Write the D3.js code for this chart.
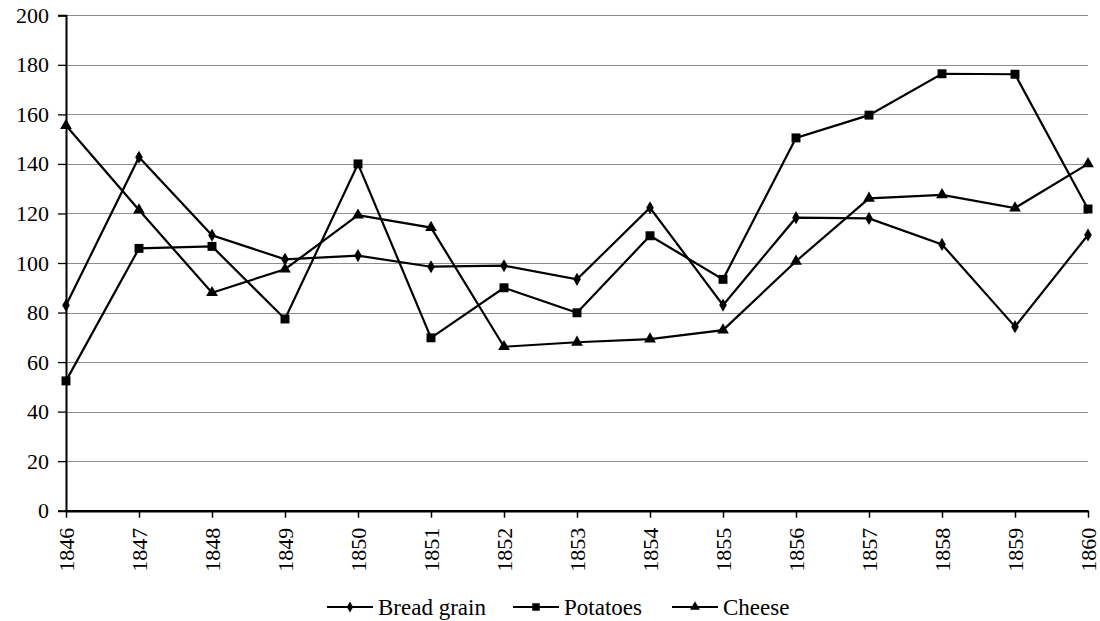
<!DOCTYPE html>
<html><head><meta charset="utf-8">
<script src="https://cdn.jsdelivr.net/npm/d3@7"></script>
<style>
body{margin:0;background:#fff}
svg{display:block}
text{font-family:"Liberation Serif","Times New Roman",Tinos,Georgia;}
</style>
</head><body>
<svg id="c" width="1100" height="621" font-family="Liberation Serif, Times New Roman, Georgia"></svg>
<script>
const years = ["1846","1847","1848","1849","1850","1851","1852","1853","1854","1855","1856","1857","1858","1859","1860"];
const breadGrain = [82.9,142.7,111.2,101.5,103.0,98.5,98.9,93.4,122.3,83.0,118.3,118.0,107.5,74.3,111.3];
const potatoes  = [52.4,105.9,106.7,77.4,140.0,69.8,90.0,79.9,111.0,93.4,150.5,159.7,176.4,176.2,121.8];
const cheese    = [155.5,121.4,88.0,97.5,119.3,114.3,66.2,68.0,69.3,72.9,100.7,126.1,127.5,122.2,140.0];
const yTicks = [0,20,40,60,80,100,120,140,160,180,200];
const seriesNames = ["Bread grain","Potatoes","Cheese"];

const series = [
  {name: seriesNames[0], values: breadGrain, sym: d3.symbolDiamond, size: 50},
  {name: seriesNames[1], values: potatoes, sym: d3.symbolSquare, size: 80},
  {name: seriesNames[2], values: cheese, sym: d3.symbolTriangle, size: 60}
];

const FAM = "Times New Roman";
const svg = d3.select("#c");
const L = 66, R = 1088, T = 15.3, B = 510.7;
const x = d3.scalePoint().domain(years).range([L, R]);
const y = d3.scaleLinear().domain([0, 200]).range([B, T]);

// gridlines
svg.append("g").selectAll("line").data(yTicks.filter(d => d > 0)).join("line")
  .attr("x1", L).attr("x2", R)
  .attr("y1", d => Math.round(y(d)) + 0.5).attr("y2", d => Math.round(y(d)) + 0.5)
  .attr("stroke", "#8c8c8c").attr("stroke-width", 1.2);

// y axis
const yAxis = svg.append("g").attr("transform", `translate(${L},0)`)
  .call(d3.axisLeft(y).tickValues(yTicks).tickSize(8).tickPadding(9));
yAxis.attr("font-family", FAM).attr("font-size", 22);
yAxis.select(".domain").attr("stroke", "#000").attr("stroke-width", 2);
yAxis.selectAll(".tick line").attr("stroke", "#000").attr("stroke-width", 1.3);
yAxis.selectAll("text").attr("font-family", FAM).attr("fill", "#000");

// x axis
const xAxis = svg.append("g").attr("transform", `translate(0,${B})`)
  .call(d3.axisBottom(x).tickSize(7).tickSizeOuter(0));
xAxis.attr("font-family", FAM).attr("font-size", 22);
xAxis.select(".domain").attr("stroke", "#000").attr("stroke-width", 2.5);
xAxis.selectAll(".tick line").attr("stroke", "#000").attr("stroke-width", 1.5);
xAxis.selectAll("text")
  .attr("font-family", FAM).attr("fill", "#000")
  .attr("transform", "rotate(-90)")
  .attr("text-anchor", "end")
  .attr("x", -17).attr("y", 0).attr("dy", "0.35em");

// lines
const line = d3.line().x((d, i) => x(years[i])).y(d => y(d));
series.forEach(s => {
  svg.append("path").datum(s.values)
    .attr("d", line).attr("fill", "none").attr("stroke", "#000")
    .attr("stroke-width", 2.2).attr("stroke-linejoin", "miter");
  svg.append("g").selectAll("path").data(s.values).join("path")
    .attr("d", d3.symbol().type(s.sym).size(s.size))
    .attr("transform", (d, i) => `translate(${x(years[i])},${y(d)})`)
    .attr("fill", "#000");
});

// legend
const legendPos = [327, 513, 672];
const ly = 607;
series.forEach((s, i) => {
  const g = svg.append("g").attr("transform", `translate(${legendPos[i]},${ly})`);
  g.append("line").attr("x1", 0).attr("x2", 46).attr("y1", 0).attr("y2", 0)
    .attr("stroke", "#000").attr("stroke-width", 2);
  g.append("path").attr("d", d3.symbol().type(s.sym).size(s.size * 0.7))
    .attr("transform", "translate(23,0)").attr("fill", "#000");
  g.append("text").attr("x", 51).attr("y", 0).attr("dy", "0.35em")
    .attr("font-family", FAM).attr("font-size", 23).attr("fill", "#000")
    .text(s.name);
});
</script>
</body></html>
